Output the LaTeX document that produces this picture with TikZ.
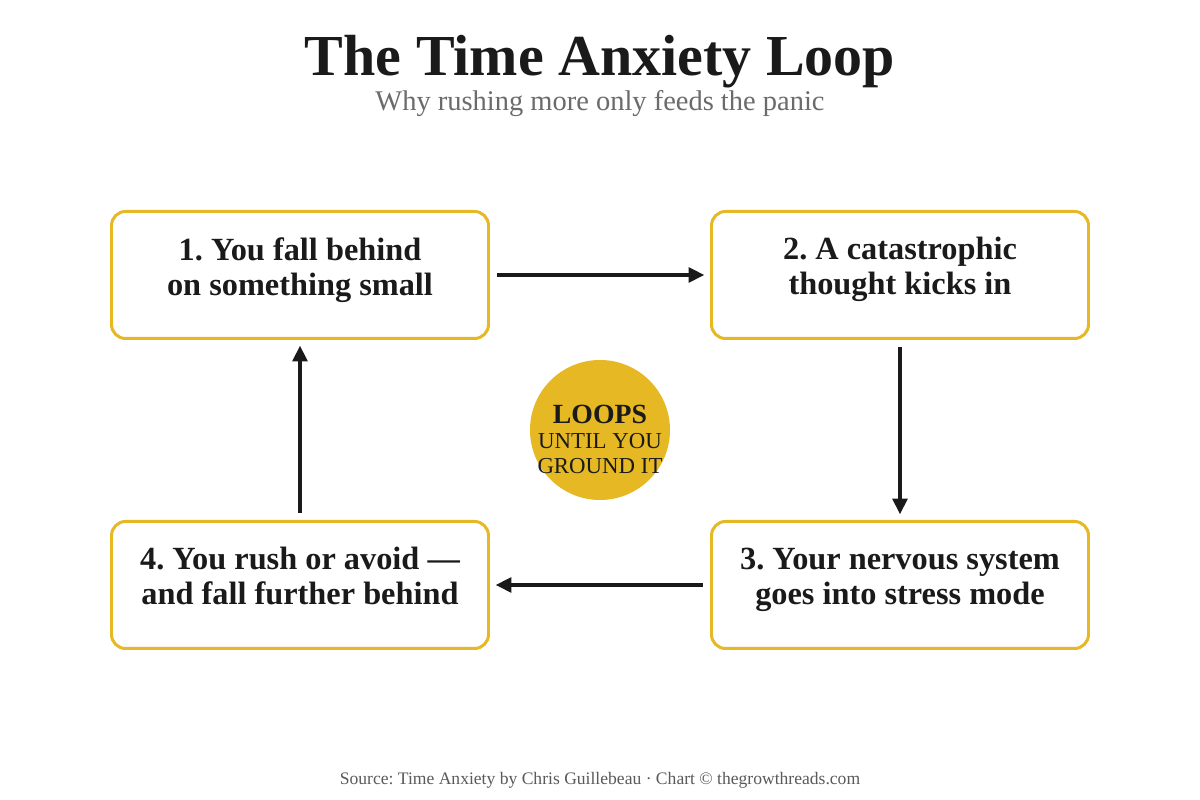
\documentclass[tikz,border=0pt]{standalone}
\usepackage{fontspec}
\setmainfont{Liberation Serif}
\usepackage{xcolor}
\usetikzlibrary{arrows.meta, positioning}
\definecolor{loopgold}{HTML}{E6B824}
\definecolor{inkdark}{HTML}{1A1A1A}
\definecolor{subgray}{HTML}{6B6B6B}
\definecolor{footgray}{HTML}{5A5A5A}
\frenchspacing

\begin{document}
\begin{tikzpicture}[->,
				>={Triangle[length=4.5pt,width=4.2pt]},
				shorten >=1.6pt,
				shorten <=2pt,
				line width=1pt,
				stage/.style={draw=loopgold, line width=0.85pt, rounded corners=4pt, fill=white,
					minimum width=3.77cm, minimum height=1.27cm, align=center, text=inkdark,
					font=\bfseries\fontsize{9.2}{10}\selectfont,
					execute at end node={\rule[-5pt]{0pt}{0pt}}},
				hub/.style={circle, fill=loopgold, minimum size=1.4cm, inner sep=0pt,
					text=inkdark, font=\fontsize{6.5}{7.1}\selectfont}]
				\fill[white, -] (0,0) rectangle (12,8);
				\useasboundingbox (0,0) rectangle (12,8);
				% heading
				\node at (6,7.24) (title) [anchor=base, text=inkdark, font=\bfseries\fontsize{16.5}{18}\selectfont] {The Time Anxiety Loop};
				\node at (6,6.89) (subtitle) [anchor=base, text=subgray, font=\fontsize{8.1}{9}\selectfont] {Why rushing more only feeds the panic};
				% the four stages
				\node at (3,5.25) (s1) [stage] {1. You fall behind\\on something small};
				\node at (9,5.25) (s2) [stage] {2. A catastrophic\\thought kicks in};
				\node at (9,2.15) (s3) [stage] {3. Your nervous system\\goes into stress mode};
				\node at (3,2.15) (s4) [stage] {4. You rush or avoid ---\\and fall further behind};
				\node at (6,3.7) (hub) [hub] {\raisebox{-5.3pt}[0pt][0pt]{\begin{tabular}{@{}c@{}}{\bfseries\fontsize{7.9}{7.1}\selectfont LOOPS}\\UNTIL YOU\\GROUND IT\end{tabular}}};
				\draw[->, inkdark] (s1) -- (s2);
				\draw[->, inkdark] (s2) -- (s3);
				\draw[->, inkdark] (s3) -- (s4);
				\draw[->, inkdark] (s4) -- (s1);
				% source line
				\node at (6,0.15) (source) [anchor=base, text=footgray, font=\fontsize{5}{6}\selectfont] {Source: Time Anxiety by Chris Guillebeau · Chart © thegrowthreads.com};
			\end{tikzpicture}
\end{document}
